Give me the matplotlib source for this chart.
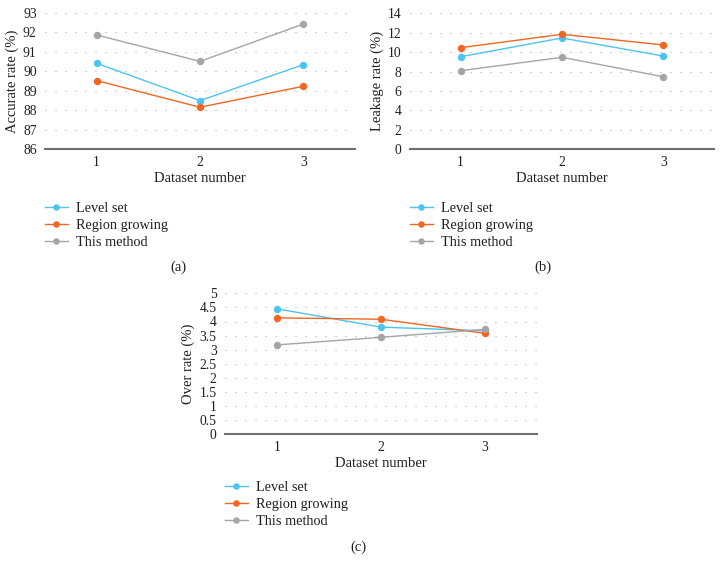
import numpy as np
import matplotlib.pyplot as plt

plt.rcParams['font.family'] = ['Liberation Serif', 'DejaVu Serif']

datasets = [1, 2, 3]
labels = ['Level set', 'Region growing', 'This method']
colors = ['#4dc3f0', '#f26522', '#a5a5a5']

# (a) accurate rate
acc_level = [90.41, 88.49, 90.34]
acc_region = [89.52, 88.15, 89.23]
acc_this = [91.87, 90.51, 92.43]

# (b) leakage rate
leak_level = [9.53, 11.46, 9.60]
leak_region = [10.46, 11.84, 10.74]
leak_this = [8.09, 9.47, 7.47]

# (c) over rate
over_level = [4.45, 3.80, 3.67]
over_region = [4.13, 4.08, 3.58]
over_this = [3.17, 3.44, 3.72]

fig = plt.figure(figsize=(7.23, 5.73), dpi=100)

def panel(rect, series, ylim, yticks, ylabel, legend_xy, caption, cap_xy):
    ax = fig.add_axes(rect)
    for vals, lab, c in zip(series, labels, colors):
        ax.plot(datasets, vals, color=c, lw=1.0, marker='o', ms=4.3,
                label=lab, clip_on=False, zorder=3)
    ax.set_xlim(0.5, 3.5)
    ax.set_ylim(*ylim)
    ax.set_xticks(datasets)
    ax.set_yticks(yticks)
    ax.set_yticklabels([('%g' % t) for t in yticks])
    ax.tick_params(length=0, labelsize=9.8, colors='#231f20', pad=6)
    ax.tick_params(axis='x', pad=5)
    for s in ['top', 'right', 'left']:
        ax.spines[s].set_visible(False)
    ax.spines['bottom'].set_color('#6f6f6f')
    ax.spines['bottom'].set_linewidth(1.5)
    ax.yaxis.grid(True, color='#ababab', lw=0.8, dashes=(1, 8))
    ax.set_axisbelow(True)
    ax.set_xlabel('Dataset number', fontsize=10.5, color='#231f20', labelpad=2)
    ax.set_ylabel(ylabel, fontsize=10.5, color='#231f20', labelpad=3)
    h, l = ax.get_legend_handles_labels()
    fig.legend(h, l, loc='upper left', bbox_to_anchor=legend_xy, frameon=False,
               fontsize=10.3, handlelength=1.6, handletextpad=0.6,
               labelspacing=0.3, borderpad=0, borderaxespad=0,
               labelcolor='#231f20', markerscale=0.85)
    fig.text(cap_xy[0], cap_xy[1], caption, ha='center', va='center',
             fontsize=10.5, color='#231f20')
    return ax

panel([45 / 723, 1 - 149 / 573, 310 / 723, 136 / 573],
      [acc_level, acc_region, acc_this], (86, 93), np.arange(86, 94, 1),
      'Accurate rate (%)', (45 / 723, 1 - 201.5 / 573), '(a)', (178 / 723, 1 - 267 / 573))

panel([410 / 723, 1 - 149.3 / 573, 304 / 723, 136 / 573],
      [leak_level, leak_region, leak_this], (0, 14), np.arange(0, 15, 2),
      'Leakage rate (%)', (410 / 723, 1 - 201.5 / 573), '(b)', (543 / 723, 1 - 267 / 573))

panel([225 / 723, 1 - 434.3 / 573, 312 / 723, 141 / 573],
      [over_level, over_region, over_this], (0, 5), np.arange(0, 5.01, 0.5),
      'Over rate (%)', (225 / 723, 1 - 480.5 / 573), '(c)', (358 / 723, 1 - 547 / 573))

fig.savefig('out.png', dpi=100)
